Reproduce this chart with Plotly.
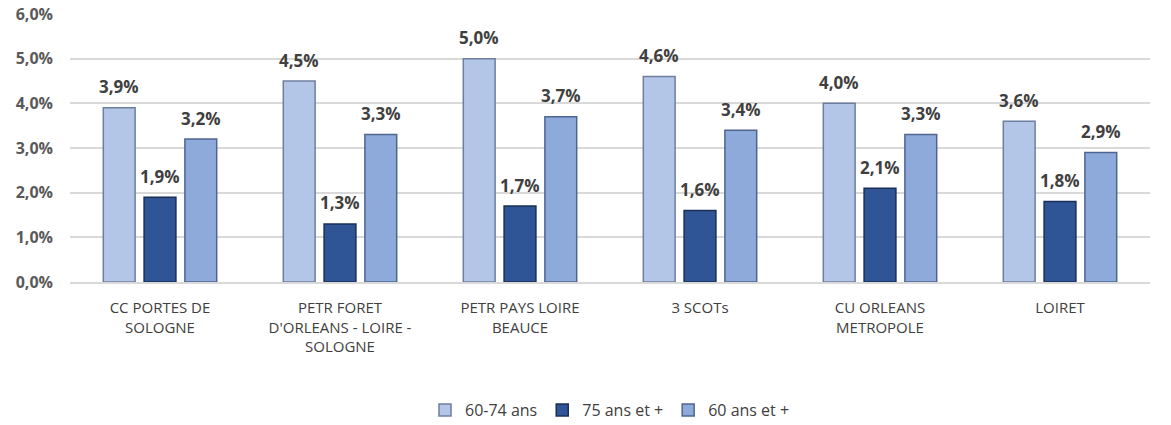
import plotly.graph_objects as go

categories = ["CC PORTES DE<br>SOLOGNE", "PETR FORET<br>D'ORLEANS - LOIRE -<br>SOLOGNE",
              "PETR PAYS LOIRE<br>BEAUCE", "3 SCOTs", "CU ORLEANS<br>METROPOLE", "LOIRET"]
age_60_74 = [3.9, 4.5, 5.0, 4.6, 4.0, 3.6]
age_75_plus = [1.9, 1.3, 1.7, 1.6, 2.1, 1.8]
age_60_plus = [3.2, 3.3, 3.7, 3.4, 3.3, 2.9]

series = [
    ("60-74 ans", age_60_74, "#b4c6e7", "#6d7f9e"),
    ("75 ans et +", age_75_plus, "#2f5597", "#1a2f55"),
    ("60 ans et +", age_60_plus, "#8eaadb", "#4f6591"),
]

fig = go.Figure()
for i, (name, vals, col, edge) in enumerate(series):
    fig.add_trace(go.Bar(
        x=categories, y=vals, name=name,
        marker=dict(color=col, line=dict(color=edge, width=1.5)),
    ))
    # value labels, lifted above bar tops like the Excel original
    for cat, v in zip(categories, vals):
        fig.add_annotation(
            x=cat, y=v, text=f"{v:.1f}%".replace(".", ","),
            showarrow=False, xshift=(i - 1) * 41, yshift=21, yanchor="middle",
            font=dict(family="Open Sans", size=17, color="#404040", weight="bold"),
        )

fig.update_layout(
    barmode="group", bargap=0.32, bargroupgap=0.22,
    separators=",.",
    width=1171, height=425,
    margin=dict(l=70, r=21, t=14, b=143, autoexpand=False),
    plot_bgcolor="white", paper_bgcolor="white",
    font=dict(family="Open Sans", color="#595959", size=14),
    legend=dict(orientation="h", x=0.5, xanchor="center", y=-0.478, yanchor="middle",
                font=dict(size=16, color="#404040"), itemwidth=30),
    showlegend=True,
)
fig.update_yaxes(range=[0, 6], dtick=1, ticksuffix="%", tickformat=".1f",
                 gridcolor="#d9d9d9", gridwidth=2, zeroline=False, automargin=False,
                 tickfont=dict(size=16, color="#595959", weight="bold"), ticklabelstandoff=16)
fig.update_xaxes(showline=True, linecolor="#d9d9d9", linewidth=2, automargin=False,
                 ticklabelstandoff=11, tickfont=dict(size=15, color="#404040"))

# page body margin shifts the figure, drop it
fig.write_html("out.html", config={"displayModeBar": False},
               post_script="document.body.style.margin='0';")
